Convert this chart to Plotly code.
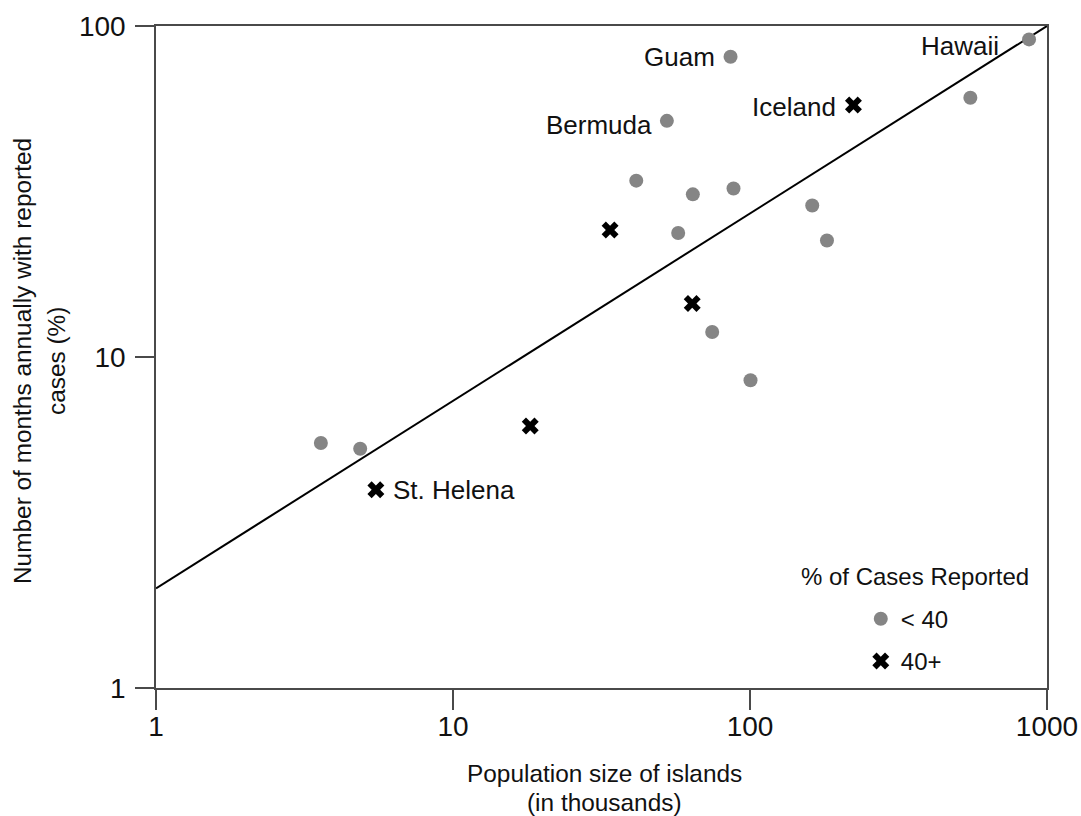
import numpy as np
import plotly.graph_objects as go

# Islands with < 40% of cases reported
low_pop = [3.59, 4.87, 52.5, 86.0, 870, 552, 41.4, 64.2, 88.0, 57.3, 162, 181.6, 74.6, 100.4]
low_months = [5.50, 5.28, 51.7, 80.7, 91.1, 60.7, 34.1, 31.0, 32.3, 23.7, 28.7, 22.5, 11.9, 8.51]
low_names = ["", "", "Bermuda", "Guam", "Hawaii", "", "", "", "", "", "", "", "", ""]

# Islands with 40%+ of cases reported
high_pop = [223, 33.8, 63.9, 18.2, 5.50]
high_months = [57.7, 24.2, 14.5, 6.19, 3.97]
high_names = ["Iceland", "", "", "", "St. Helena"]

# Fitted power-law line (end points)
fit_pop = [1, 1000]
fit_months = [2, 100]

x_ticks = [1, 10, 100, 1000]
y_ticks = [1, 10, 100]

FONT = "Liberation Sans, Arial, sans-serif"
TXT = "#111111"
AX = "#4a4a4a"
TITLE_SIZE = 24.4

fig = go.Figure()

fig.add_trace(go.Scatter(
    x=fit_pop, y=fit_months, mode="lines",
    line=dict(color="black", width=2), showlegend=False, hoverinfo="skip",
))
fig.add_trace(go.Scatter(
    x=low_pop, y=low_months, mode="markers", name="< 40", legendgroup="low",
    marker=dict(symbol="circle", size=14, color="#858585"),
))
fig.add_trace(go.Scatter(
    x=high_pop, y=high_months, mode="markers", name="40+", legendgroup="high",
    marker=dict(symbol="x", size=15, color="black"),
))

# point labels: name -> (x shift, y shift, anchor)
label_style = {
    "Guam": (-14, 0, "right"),
    "Bermuda": (-13, -4, "right"),
    "Hawaii": (-28, -7, "right"),
    "Iceland": (-15, -2, "right"),
    "St. Helena": (15, 0, "left"),
}
for xs, ys, names in ((low_pop, low_months, low_names), (high_pop, high_months, high_names)):
    for xv, yv, nm in zip(xs, ys, names):
        if not nm:
            continue
        dx, dy, anchor = label_style[nm]
        fig.add_annotation(
            x=np.log10(xv), y=np.log10(yv), xref="x", yref="y", text=nm,
            showarrow=False, xanchor=anchor, yanchor="middle", xshift=dx, yshift=dy,
            font=dict(family=FONT, size=26, color=TXT),
        )

# legend heading
fig.add_annotation(text="% of Cases Reported", xref="paper", yref="paper",
                   x=0.7213, y=0, yshift=112, showarrow=False, xanchor="left", yanchor="middle",
                   font=dict(family=FONT, size=24, color=TXT))

# axis titles
fig.add_annotation(text="Population size of islands", xref="paper", yref="paper",
                   x=0.503, y=0, yshift=-85, showarrow=False, xanchor="center", yanchor="middle",
                   font=dict(family=FONT, size=TITLE_SIZE, color=TXT))
fig.add_annotation(text="(in thousands)", xref="paper", yref="paper",
                   x=0.503, y=0, yshift=-114, showarrow=False, xanchor="center", yanchor="middle",
                   font=dict(family=FONT, size=TITLE_SIZE, color=TXT))
fig.add_annotation(text="Number of months annually with reported", xref="paper", yref="paper",
                   x=0, y=0.5, xshift=-134, yshift=-4, textangle=-90, showarrow=False,
                   xanchor="center", yanchor="middle",
                   font=dict(family=FONT, size=TITLE_SIZE, color=TXT))
fig.add_annotation(text="cases (%)", xref="paper", yref="paper",
                   x=0, y=0.5, xshift=-100, yshift=-4, textangle=-90, showarrow=False,
                   xanchor="center", yanchor="middle",
                   font=dict(family=FONT, size=TITLE_SIZE, color=TXT))

fig.update_layout(
    width=1081, height=816,
    margin=dict(l=156, r=34, t=26, b=128),
    paper_bgcolor="white", plot_bgcolor="white",
    font=dict(family=FONT, color=TXT),
    legend=dict(
        font=dict(family=FONT, size=24, color=TXT),
        x=0.791, y=0.138, xanchor="left", yanchor="top",
        bgcolor="rgba(0,0,0,0)", itemwidth=30, tracegroupgap=8,
    ),
    xaxis=dict(
        type="log", range=[0, 3], tickvals=x_ticks, ticktext=[str(v) for v in x_ticks],
        showgrid=False, zeroline=False, showline=True, linecolor=AX, linewidth=1.5,
        mirror=True, ticks="outside", ticklen=20, tickwidth=1.5, tickcolor=AX,
        tickfont=dict(family=FONT, size=28, color=TXT), ticklabelstandoff=-7,
        automargin=False, ticklabeloverflow="allow",
    ),
    yaxis=dict(
        type="log", range=[0, 2], tickvals=y_ticks, ticktext=[str(v) for v in y_ticks],
        showgrid=False, zeroline=False, showline=True, linecolor=AX, linewidth=1.5,
        mirror=True, ticks="outside", ticklen=19, tickwidth=1.5, tickcolor=AX,
        tickfont=dict(family=FONT, size=28, color=TXT), ticklabelstandoff=4,
        automargin=False, ticklabeloverflow="allow",
    ),
)

fig.write_html("out.html")
